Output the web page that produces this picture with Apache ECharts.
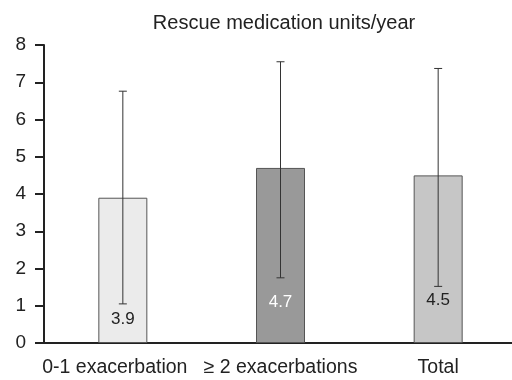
<!DOCTYPE html>
<html>
<head>
<meta charset="utf-8">
<script src="https://cdn.jsdelivr.net/npm/echarts@6/dist/echarts.min.js"></script>
<style>
  html, body { margin: 0; padding: 0; background: #fff; }
  #chart { width: 512px; height: 380px; }
</style>
</head>
<body>
<div id="chart"></div>
<script>
// Groups, mean values and error-bar ranges
const categories = ['0-1 exacerbation', '\u2265 2 exacerbations', 'Total'];
const means = [3.9, 4.7, 4.5];
const errLow = [1.05, 1.75, 1.52];
const errHigh = [6.76, 7.55, 7.37];
const yTicks = [0, 1, 2, 3, 4, 5, 6, 7, 8];

const barColors = ['#ebebeb', '#999999', '#c6c6c6'];
const labelColors = ['#222222', '#ffffff', '#222222'];
const labelLift = [15, 32, 34];
const font = 'Liberation Sans, Arial, sans-serif';

const chart = echarts.init(document.getElementById('chart'));

chart.setOption({
  animation: false,
  backgroundColor: '#ffffff',
  title: {
    text: 'Rescue medication units/year',
    left: 279,
    top: 8,
    textAlign: 'center',
    textStyle: { fontFamily: font, fontSize: 20, fontWeight: 'normal', color: '#222' }
  },
  grid: {
    left: 44, width: 473, top: 45, height: 298,
    containLabel: false, outerBoundsMode: 'none'
  },
  xAxis: {
    type: 'category',
    data: categories.map((c, i) => i === 0
      ? { value: c, textStyle: { padding: [0, 16, 0, 0] } }
      : c),
    axisLine: { lineStyle: { color: '#222', width: 2 } },
    axisTick: { show: false },
    axisLabel: { interval: 0, margin: 15, fontFamily: font, fontSize: 19.5, color: '#222' }
  },
  yAxis: {
    type: 'value',
    min: yTicks[0],
    max: yTicks[yTicks.length - 1],
    interval: 1,
    splitLine: { show: false },
    axisLine: { show: true, lineStyle: { color: '#222', width: 2 } },
    axisTick: { show: true, inside: false, length: 9, lineStyle: { color: '#222', width: 2 } },
    axisLabel: { margin: 18, fontFamily: font, fontSize: 19, color: '#222' }
  },
  series: [
    {
      type: 'bar',
      barWidth: 49,
      data: means.map((v, i) => ({
        value: v,
        itemStyle: { color: barColors[i], borderColor: '#555', borderWidth: 1 },
        label: { color: labelColors[i], distance: labelLift[i] }
      })),
      label: {
        show: true,
        position: 'insideBottom',
        fontFamily: font,
        fontSize: 17
      },
      z: 2
    },
    {
      type: 'custom',
      data: categories.map((c, i) => [i, errLow[i], errHigh[i]]),
      renderItem: function (params, api) {
        const x = api.value(0);
        const lo = api.coord([x, api.value(1)]);
        const hi = api.coord([x, api.value(2)]);
        const cap = 4;
        const style = { stroke: '#333', lineWidth: 1 };
        return {
          type: 'group',
          children: [
            { type: 'line', shape: { x1: lo[0], y1: lo[1], x2: hi[0], y2: hi[1] }, style },
            { type: 'line', shape: { x1: lo[0] - cap, y1: lo[1], x2: lo[0] + cap, y2: lo[1] }, style },
            { type: 'line', shape: { x1: hi[0] - cap, y1: hi[1], x2: hi[0] + cap, y2: hi[1] }, style }
          ]
        };
      },
      z: 3
    }
  ]
});
</script>
</body>
</html>
